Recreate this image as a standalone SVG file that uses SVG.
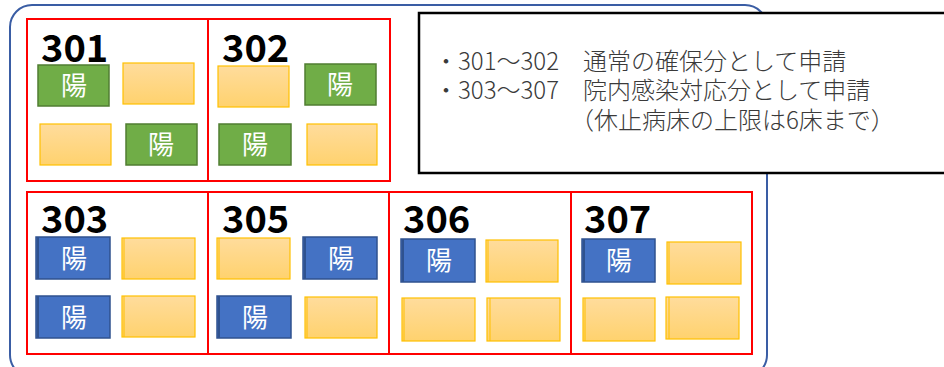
<svg xmlns="http://www.w3.org/2000/svg" width="944" height="367" viewBox="0 0 944 367">
<defs>
<linearGradient id="og" x1="0" y1="0" x2="0" y2="1">
<stop offset="0" stop-color="#FFDC9C"/>
<stop offset="1" stop-color="#FFD26E"/>
</linearGradient>
</defs>
<style>
.outer{fill:#fff;stroke:#3A5DA4;stroke-width:2}
.note{fill:#fff;stroke:#000;stroke-width:2.5}
.room{fill:none;stroke:#FF0000;stroke-width:2}
.g{fill:#70AD47;stroke:#507E32;stroke-width:1.5}
.b{fill:#4472C4;stroke:#2F528F;stroke-width:1.5}
.o{fill:url(#og);stroke:#FFC000;stroke-width:1.2}
.bl{stroke:#2F528F;stroke-width:2}
.ol{stroke:#FFC000;stroke-width:1}
.lbl{font-family:"Noto Sans CJK JP","Noto Sans",sans-serif;font-weight:700;font-size:38px;fill:#000}
.y{font-family:"Noto Sans CJK JP",sans-serif;font-size:26px;fill:#fff;text-anchor:middle}
.t{font-family:"Noto Sans CJK JP",sans-serif;font-size:24px;fill:#3a3a3a;font-weight:300}
</style>
<rect class="outer" x="10" y="5" width="757" height="372" rx="22"/>
<g id="note">
<rect class="note" x="419" y="13" width="540" height="160"/>
<text class="t" x="434" y="70" xml:space="preserve">・301～302　通常の確保分として申請</text>
<text class="t" x="434" y="99" xml:space="preserve">・303～307　院内感染対応分として申請</text>
<text class="t" x="570" y="129">（休止病床の上限は6床まで）</text>
</g>
<g id="room301">
<rect class="room" x="27" y="19" width="181" height="162"/>
<text class="lbl" x="41" y="62">301</text>
<rect class="g" x="38" y="65" width="71" height="41"/><text class="y" x="74" y="95">陽</text>
<rect class="o" x="123" y="63" width="71" height="41"/>
<rect class="o" x="40" y="124" width="71" height="41"/>
<rect class="g" x="126" y="124" width="71" height="41"/><text class="y" x="161" y="154">陽</text>
</g>
<g id="room302">
<rect class="room" x="208" y="19" width="182" height="162"/>
<text class="lbl" x="222" y="62">302</text>
<rect class="o" x="218" y="66" width="71" height="41"/>
<rect class="g" x="305" y="64" width="71" height="41"/><text class="y" x="340" y="94">陽</text>
<rect class="g" x="219" y="124" width="72" height="41"/><text class="y" x="255" y="154">陽</text>
<rect class="o" x="307" y="124" width="70" height="41"/>
</g>
<g id="room303">
<rect class="room" x="27" y="192" width="181" height="162"/>
<text class="lbl" x="41" y="233">303</text>
<rect class="b" x="36" y="237" width="74" height="42"/><line class="bl" x1="38" y1="237" x2="38" y2="279"/><text class="y" x="74" y="268">陽</text>
<rect class="o" x="122" y="238" width="73" height="41"/><line class="ol" x1="124" y1="238" x2="124" y2="279"/>
<rect class="b" x="36" y="296" width="74" height="42"/><line class="bl" x1="38" y1="296" x2="38" y2="338"/><text class="y" x="74" y="327">陽</text>
<rect class="o" x="122" y="296" width="73" height="41"/><line class="ol" x1="124" y1="296" x2="124" y2="337"/>
</g>
<g id="room305">
<rect class="room" x="208" y="192" width="181" height="162"/>
<text class="lbl" x="222" y="233">305</text>
<rect class="o" x="217" y="238" width="73" height="41"/><line class="ol" x1="219" y1="238" x2="219" y2="279"/>
<rect class="b" x="303" y="237" width="74" height="42"/><line class="bl" x1="305" y1="237" x2="305" y2="279"/><text class="y" x="341" y="268">陽</text>
<rect class="b" x="217" y="296" width="74" height="42"/><line class="bl" x1="219" y1="296" x2="219" y2="338"/><text class="y" x="255" y="327">陽</text>
<rect class="o" x="305" y="297" width="72" height="41"/><line class="ol" x1="307" y1="297" x2="307" y2="338"/>
</g>
<g id="room306">
<rect class="room" x="389" y="192" width="182" height="162"/>
<text class="lbl" x="403" y="233">306</text>
<rect class="b" x="401" y="239" width="74" height="43"/><line class="bl" x1="403" y1="239" x2="403" y2="282"/><text class="y" x="439" y="270">陽</text>
<rect class="o" x="486" y="240" width="72" height="42"/><line class="ol" x1="488" y1="240" x2="488" y2="282"/>
<rect class="o" x="402" y="298" width="73" height="43"/><line class="ol" x1="404" y1="298" x2="404" y2="341"/>
<rect class="o" x="487" y="298" width="73" height="43"/><line class="ol" x1="490" y1="298" x2="490" y2="341"/>
</g>
<g id="room307">
<rect class="room" x="571" y="192" width="181" height="162"/>
<text class="lbl" x="584" y="233">307</text>
<rect class="b" x="582" y="239" width="73" height="43"/><line class="bl" x1="584" y1="239" x2="584" y2="282"/><text class="y" x="619" y="270">陽</text>
<rect class="o" x="667" y="242" width="74" height="42"/><line class="ol" x1="669" y1="242" x2="669" y2="284"/>
<rect class="o" x="583" y="298" width="72" height="43"/><line class="ol" x1="585" y1="298" x2="585" y2="341"/>
<rect class="o" x="666" y="297" width="73" height="42"/><line class="ol" x1="669" y1="297" x2="669" y2="339"/>
</g>
<g id="connectors"></g>
</svg>
